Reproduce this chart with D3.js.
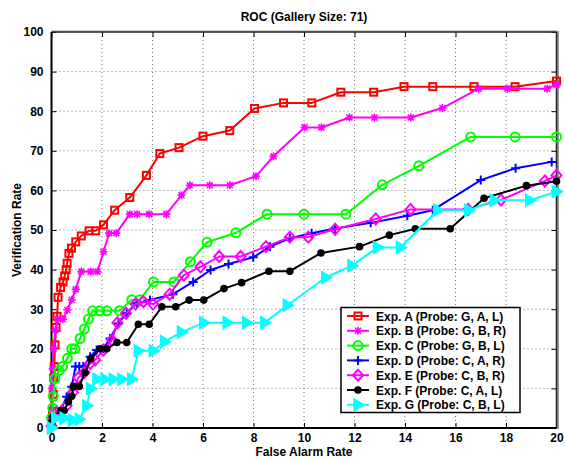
<!DOCTYPE html>
<html>
<head>
<meta charset="utf-8">
<script src="https://cdn.jsdelivr.net/npm/d3@7"></script>
<style>
  body { margin: 0; background: #fff; }
  svg { font-family: "Liberation Sans", Arial, sans-serif; }
  .tick text { font-weight: bold; font-size: 12px; }
</style>
</head>
<body>
<div id="vis"></div>
<script>
// values (false alarm %, verification %)
let expA = [[0,1.4],[0.04,4.2],[0.07,8.5],[0.09,12.7],[0.11,15.5],[0.14,21],[0.18,25.4],[0.22,28.2],[0.26,33],[0.36,35.5],[0.46,36.9],[0.52,38.4],[0.58,40],[0.62,41.6],[0.69,44.1],[0.79,45.4],[0.96,47],[1.18,48.5],[1.49,49.8],[1.75,49.8],[2.06,51.3],[2.5,55],[3.1,58.2],[3.76,63.8],[4.29,69.3],[5.05,70.8],[6.0,73.7],[7.06,75.1],[8.04,80.7],[9.19,82.1],[10.31,82.1],[11.46,84.8],[12.76,84.8],[13.96,86.2],[15.1,86.2],[16.73,86.2],[18.36,86.2],[20,87.6]];
let expB = [[0,2],[0.02,10],[0.05,15],[0.08,20],[0.15,24.7],[0.25,27.5],[0.45,27.5],[0.63,29.8],[0.8,32.4],[0.96,35],[1.18,39.5],[1.55,39.5],[1.82,39.5],[2.06,44.5],[2.28,49.2],[2.57,49.2],[3.1,54],[3.39,54],[3.86,54],[4.55,54],[5.15,58.8],[5.48,61.3],[6.27,61.3],[7.06,61.3],[8.1,63.6],[8.79,68.6],[10.02,75.9],[10.69,75.9],[11.8,78.4],[12.79,78.4],[14.23,78.4],[15.48,80.8],[16.92,85.7],[18.06,85.7],[19.63,85.7],[20,86.7]];
let expC = [[0,2.5],[0.05,5],[0.07,8],[0.14,12.5],[0.3,14.5],[0.44,15.5],[0.63,17.6],[0.8,20],[0.93,20],[1.13,22.6],[1.3,25],[1.46,27.5],[1.63,29.6],[1.9,29.6],[2.19,29.6],[2.69,29.6],[3.18,32.4],[3.5,32.4],[4.04,36.9],[4.85,36.9],[5.5,42],[6.16,46.9],[7.3,49.3],[8.54,54],[10,54],[11.66,54],[13.1,61.4],[14.55,66.2],[16.6,73.5],[18.36,73.5],[20,73.5]];
let expD = [[0,1],[0.05,2.9],[0.34,4.1],[0.6,7.9],[0.8,10.4],[0.95,15.5],[1.1,15.5],[1.26,15.5],[1.53,18],[1.79,19.7],[2.06,20.1],[2.32,22.6],[2.65,26.4],[2.98,29],[3.38,31.5],[3.9,32.3],[4.81,33.8],[5.61,36.9],[6.3,39.9],[7.01,41.4],[7.99,43.1],[8.65,45.8],[9.44,47.9],[10.3,49.2],[11.23,50.4],[12.64,51.8],[14.09,53.6],[15.1,55],[17.0,62.6],[18.38,65.6],[19.81,67.2]];
let expE = [[0,0.5],[0.2,4],[0.4,4.2],[0.6,5.6],[0.85,9],[1.06,12.7],[1.3,14],[1.53,16.3],[1.73,17.2],[2.06,19.7],[2.39,22.2],[2.61,26.6],[2.95,29],[3.33,31.3],[3.64,31.9],[4.02,31.3],[4.68,33.8],[5.24,38.6],[5.9,40.7],[6.64,43.3],[7.49,43.3],[8.49,45.8],[9.44,48.2],[10.17,48.2],[11.23,50.2],[12.84,52.8],[14.22,55.2],[16.5,55.2],[17.8,57.6],[19.54,62.4],[20,63.8]];
let expF = [[0,1.4],[0.07,2.9],[0.37,4.4],[0.5,4.4],[0.67,6.6],[0.8,8],[0.87,10.5],[1.1,10.5],[1.33,14],[1.55,17.5],[1.92,20],[2.19,20],[2.59,21.6],[2.98,21.6],[3.44,26.2],[3.87,26.2],[4.37,30.6],[4.92,30.6],[5.45,32.3],[6.03,32.3],[6.83,35.2],[7.53,36.7],[8.61,39.6],[9.44,39.6],[10.67,44.2],[12.2,45.8],[13.38,48.7],[14.41,50.3],[15.79,50.3],[17.13,58],[18.81,61.2],[20,62.3]];
let expG = [[0,0],[0.17,2.5],[0.5,2.5],[0.83,2],[1.1,2.2],[1.4,5.6],[1.55,9.9],[1.8,12.3],[2.12,12.3],[2.45,12.3],[2.79,12.3],[3.18,12.3],[3.44,19.5],[4.04,19.5],[4.48,21.8],[5.15,24.2],[6.03,26.6],[6.96,26.6],[7.73,26.6],[8.45,26.6],[9.34,31],[10.86,38],[11.9,41],[12.91,45.6],[13.82,45.6],[15.29,55],[16.53,55],[17.54,57.5],[18.94,57.5],[20,59.7]];

let seriesNames = ['Exp. A (Probe: G, A, L)', 'Exp. B (Probe: G, B, R)', 'Exp. C (Probe: G, B, L)',
    'Exp. D (Probe: C, A, R)', 'Exp. E (Probe: C, B, R)', 'Exp. F (Probe: C, A, L)', 'Exp. G (Probe: C, B, L)'];
let seriesColors = ['#ff0000', '#ff00ff', '#00ff00', '#0000ff', '#ff00ff', '#000000', '#00ffff'];
let seriesMarkers = ['square', 'star', 'circle', 'plus', 'diamond', 'dot', 'triangle'];
let xTicks = [0, 2, 4, 6, 8, 10, 12, 14, 16, 18, 20];
let yTicks = [0, 10, 20, 30, 40, 50, 60, 70, 80, 90, 100];

let allData = [expA, expB, expC, expD, expE, expF, expG];

let W = 565, H = 459;
let margin = {top: 32, right: 8.5, bottom: 31, left: 51.5};
let width = W - margin.left - margin.right,
    height = H - margin.top - margin.bottom;

const svg = d3.select('#vis').append('svg')
    .attr('width', W)
    .attr('height', H);

const g = svg.append('g')
    .attr('transform', 'translate(' + margin.left + ',' + margin.top + ')');

var x = d3.scaleLinear().domain([0, 20]).range([0, width]);
var y = d3.scaleLinear().domain([0, 100]).range([height, 0]);

// grid
g.append('g')
    .selectAll('line')
    .data(xTicks.slice(1, -1))
    .enter().append('line')
    .attr('x1', d => x(d)).attr('x2', d => x(d))
    .attr('y1', 0).attr('y2', height)
    .attr('stroke', '#777').attr('stroke-width', 1)
    .attr('stroke-dasharray', '1,3');
g.append('g')
    .selectAll('line')
    .data(yTicks.slice(1, -1))
    .enter().append('line')
    .attr('y1', d => y(d)).attr('y2', d => y(d))
    .attr('x1', 0).attr('x2', width)
    .attr('stroke', '#777').attr('stroke-width', 1)
    .attr('stroke-dasharray', '1,3');

// axes with inner ticks
let xAxis = g.append('g')
    .attr('transform', 'translate(0,' + height + ')')
    .call(d3.axisBottom(x).tickValues(xTicks).tickSize(-5).tickPadding(5).tickFormat(d3.format('d')));
let yAxis = g.append('g')
    .call(d3.axisLeft(y).tickValues(yTicks).tickSize(-5).tickPadding(8).tickFormat(d3.format('d')));
g.append('g')
    .call(d3.axisTop(x).tickValues(xTicks).tickSize(-5).tickFormat(''));
g.append('g')
    .attr('transform', 'translate(' + width + ',0)')
    .call(d3.axisRight(y).tickValues(yTicks).tickSize(-5).tickFormat(''));
g.selectAll('.domain').remove();
g.selectAll('.tick line').attr('stroke', '#000');
g.selectAll('.tick text').attr('fill', '#000');

// frame
g.append('line').attr('x1', 0).attr('x2', width + 1).attr('y1', -1).attr('y2', -1)
    .attr('stroke', '#999').attr('stroke-width', 1);
g.append('line').attr('x1', 0).attr('x2', width).attr('y1', 0).attr('y2', 0)
    .attr('stroke', '#222').attr('stroke-width', 1.5);
g.append('line').attr('x1', width + 1.5).attr('x2', width + 1.5).attr('y1', -1).attr('y2', height + 1)
    .attr('stroke', '#999').attr('stroke-width', 2);
g.append('line').attr('x1', width).attr('x2', width).attr('y1', 0).attr('y2', height)
    .attr('stroke', '#222').attr('stroke-width', 1.5);
g.append('line').attr('x1', 0).attr('x2', 0).attr('y1', 0).attr('y2', height + 1)
    .attr('stroke', '#000').attr('stroke-width', 2);
g.append('line').attr('x1', -1).attr('x2', width).attr('y1', height).attr('y2', height)
    .attr('stroke', '#000').attr('stroke-width', 2);

// markers
function drawMarker(sel, type, color) {
    if (type === 'square') {
        sel.append('rect').attr('x', -3.5).attr('y', -3.5).attr('width', 7).attr('height', 7)
            .attr('fill', 'none').attr('stroke', color).attr('stroke-width', 2);
    } else if (type === 'star') {
        sel.append('path').attr('d', 'M-4,0H4M0,-4V4M-3,-3L3,3M-3,3L3,-3')
            .attr('stroke', color).attr('stroke-width', 1.6);
    } else if (type === 'circle') {
        sel.append('circle').attr('r', 4.5)
            .attr('fill', 'none').attr('stroke', color).attr('stroke-width', 2);
    } else if (type === 'plus') {
        sel.append('path').attr('d', 'M-4.5,0H4.5M0,-4.5V4.5')
            .attr('stroke', color).attr('stroke-width', 2);
    } else if (type === 'diamond') {
        sel.append('path').attr('d', 'M0,-5.5L5,0L0,5.5L-5,0Z')
            .attr('fill', 'none').attr('stroke', color).attr('stroke-width', 2);
    } else if (type === 'dot') {
        sel.append('circle').attr('r', 3.8).attr('fill', color);
    } else if (type === 'triangle') {
        sel.append('path').attr('d', 'M-4,-6L6,0L-4,6Z')
            .attr('fill', color).attr('stroke', color).attr('stroke-width', 1.5);
    }
}

let line = d3.line().x(d => x(d[0])).y(d => y(d[1]));

allData.forEach(function (data, i) {
    g.append('path')
        .datum(data)
        .attr('fill', 'none')
        .attr('stroke', seriesColors[i])
        .attr('stroke-width', 2)
        .attr('stroke-linejoin', 'round')
        .attr('d', line);
    g.append('g').selectAll('g')
        .data(data)
        .enter().append('g')
        .attr('transform', d => 'translate(' + x(d[0]) + ',' + y(d[1]) + ')')
        .each(function () {
            drawMarker(d3.select(this), seriesMarkers[i], seriesColors[i]);
        });
});

// legend
let lg = svg.append('g').attr('transform', 'translate(341,307.5)');
lg.append('rect').attr('width', 179).attr('height', 105)
    .attr('fill', '#fff').attr('stroke', '#000').attr('stroke-width', 1.5);
seriesNames.forEach(function (name, i) {
    let row = lg.append('g').attr('transform', 'translate(0,' + (8.5 + i * 14.8) + ')');
    row.append('line').attr('x1', 6).attr('x2', 28).attr('stroke', seriesColors[i]).attr('stroke-width', 2);
    let m = row.append('g').attr('transform', 'translate(17,0)');
    drawMarker(m, seriesMarkers[i], seriesColors[i]);
    row.append('text').attr('x', 35).attr('y', 4.5)
        .attr('font-size', '12px').attr('font-weight', 'bold')
        .text(name);
});

// titles
svg.append('text').attr('x', 304).attr('y', 21)
    .attr('text-anchor', 'middle').attr('font-size', '12px').attr('font-weight', 'bold')
    .text('ROC (Gallery Size: 71)');
svg.append('text').attr('x', 304).attr('y', 456)
    .attr('text-anchor', 'middle').attr('font-size', '12px').attr('font-weight', 'bold')
    .text('False Alarm Rate');
svg.append('text').attr('transform', 'translate(21,230) rotate(-90)')
    .attr('text-anchor', 'middle').attr('font-size', '12px').attr('font-weight', 'bold')
    .text('Verification Rate');
</script>
</body>
</html>
